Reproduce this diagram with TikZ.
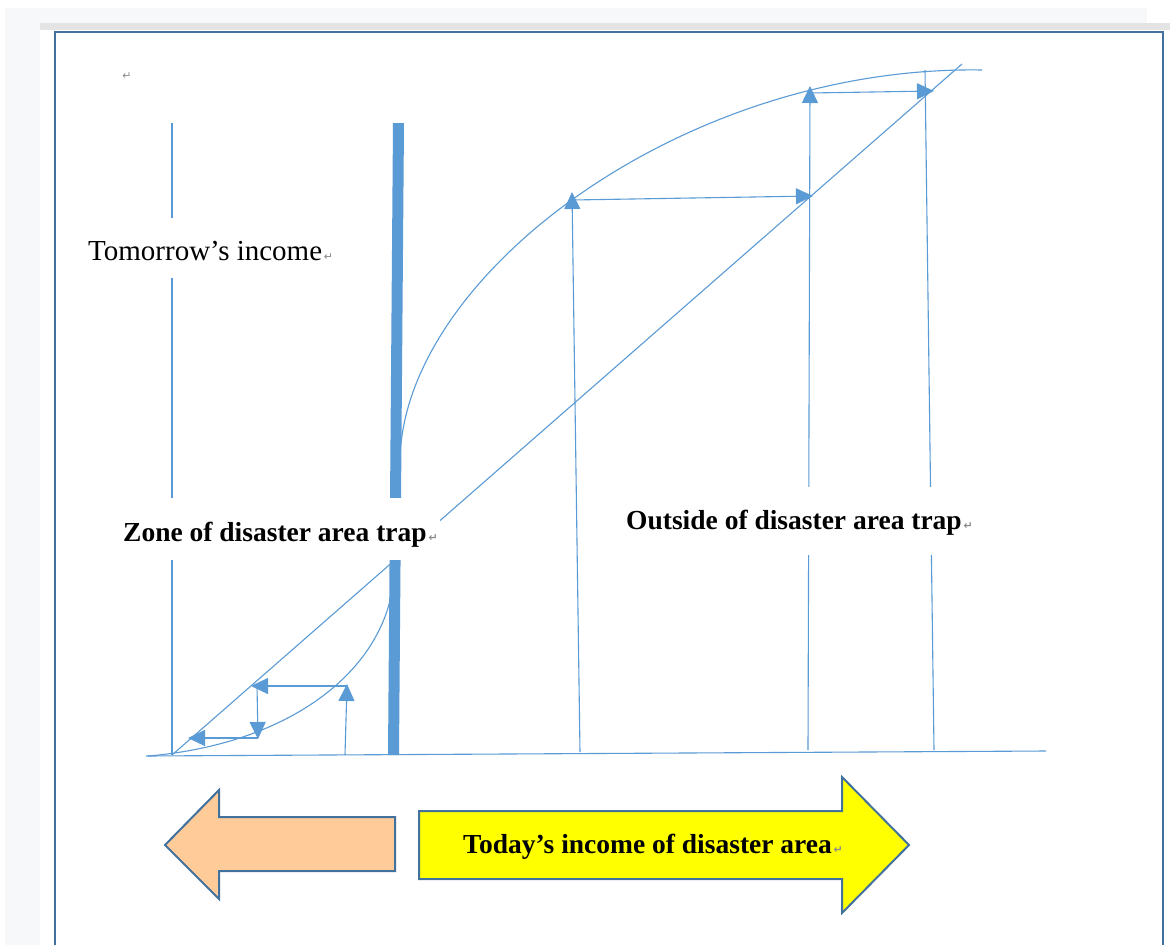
\documentclass[tikz,border=0pt]{standalone}
\usepackage{fontspec}
\setmainfont{Liberation Serif}
\newfontfamily\symf{DejaVu Sans}
\usetikzlibrary{arrows.meta}
\definecolor{ln}{RGB}{91,155,213}
\definecolor{frm}{RGB}{65,113,156}
\definecolor{peach}{RGB}{255,204,153}
\definecolor{yel}{RGB}{255,255,0}
\definecolor{bgg}{RGB}{247,248,249}
\definecolor{barg}{RGB}{228,228,228}
\definecolor{pm}{RGB}{140,140,140}
\newcommand{\retmark}{{\symf\fontsize{11}{11}\selectfont\color{pm}\,↵}}
\begin{document}
\begin{tikzpicture}[x=1pt,y=-1pt,
  curve/.style={draw=ln, line width=1.1pt},
  arr/.style={draw=ln, line width=1.1pt, -{Triangle[length=17pt,width=16pt]}},
  gap/.style={fill=white, inner sep=0pt},
  lbl/.style={font=\fontsize{27.5}{32}\selectfont\bfseries, text=black, inner sep=0pt},
  bigarrow/.style={draw=frm, line width=2pt, line join=miter}
]
\useasboundingbox (0,0) rectangle (1170,945);
% page background
\fill[white] (0,0) rectangle (1170,945);
\fill[bgg] (5,8) rectangle (1147,23);
\fill[bgg] (5,23) rectangle (40,945);
\fill[barg] (40,23) rectangle (1170,30);
\draw[frm, line width=2.5pt] (55,950) -- (55,32) -- (1163,32) -- (1163,950);
\node[anchor=center] (pm0) at (126,76) {\retmark};

% key coordinates
\coordinate (axL) at (146,756);
\coordinate (axR) at (1046,751);
\coordinate (vtop) at (172,123);
\coordinate (vbot) at (172,755);
\coordinate (dA) at (172,755);
\coordinate (dB) at (962,64);

% axes and guide lines
\draw[curve] (axL) -- (axR);
\draw[curve] (vtop) -- (vbot);
\fill[ln] (393,123) -- (404,123) -- (399,755) -- (388,755) -- cycle;
\draw[curve] (dA) -- (dB);
% curves
\draw[curve] (400,465) .. controls (398,280) and (680,65) .. (982,70);
\draw[curve] (148,756) .. controls (280,745) and (375,680) .. (392,592);

% lower-left staircase
\coordinate (l1a) at (345,755); \coordinate (l1b) at (347,684);
\coordinate (l2a) at (347,686); \coordinate (l2b) at (251,686);
\coordinate (l3a) at (257,686); \coordinate (l3b) at (258,739);
\coordinate (l4a) at (258,738); \coordinate (l4b) at (188,738);
\draw[arr] (l1a) -- (l1b);
\draw[arr] (l2a) -- (l2b);
\draw[arr] (l3a) -- (l3b);
\draw[arr] (l4a) -- (l4b);

% upper-right staircase
\coordinate (u1a) at (580,752); \coordinate (u1b) at (572,192);
\coordinate (u2a) at (572,200); \coordinate (u2b) at (813,196);
\coordinate (u3a) at (808,750); \coordinate (u3b) at (810,86);
\coordinate (u4a) at (810,93);  \coordinate (u4b) at (934,91);
\coordinate (u5a) at (934,750); \coordinate (u5b) at (925,70);
\draw[arr] (u1a) -- (u1b);
\draw[arr] (u2a) -- (u2b);
\draw[arr] (u3a) -- (u3b);
\draw[arr] (u4a) -- (u4b);
\draw[curve] (u5a) -- (u5b);

% white text boxes interrupting the lines
\node[gap, anchor=north west, minimum width=260pt, minimum height=60pt] (tomgap) at (80,218) {};
\node[gap, anchor=north west, minimum width=325pt, minimum height=62pt] (zonegap) at (115,498) {};
\node[gap, anchor=north west, minimum width=360pt, minimum height=68pt] (outsgap) at (615,487) {};

% labels
\node[anchor=west, inner sep=0pt, font=\fontsize{29}{32}\selectfont] (tom) at (88,251) {Tomorrow’s income\retmark};
\node[lbl, anchor=west] (zone) at (123,535) {Zone of disaster area trap\retmark};
\node[lbl, anchor=west] (outs) at (626,523) {Outside of disaster area trap\retmark};

% big arrows
\draw[bigarrow, fill=peach] (165,845) -- (219,790) -- (219,817) -- (395,817) -- (395,871) -- (219,871) -- (219,899) -- cycle;
\draw[bigarrow, fill=yel] (419,811) -- (842,811) -- (842,777) -- (909,845) -- (842,913) -- (842,879) -- (419,879) -- cycle;
\node[lbl, anchor=west] (today) at (463,847) {Today’s income of disaster area\retmark};
\end{tikzpicture}
\end{document}
